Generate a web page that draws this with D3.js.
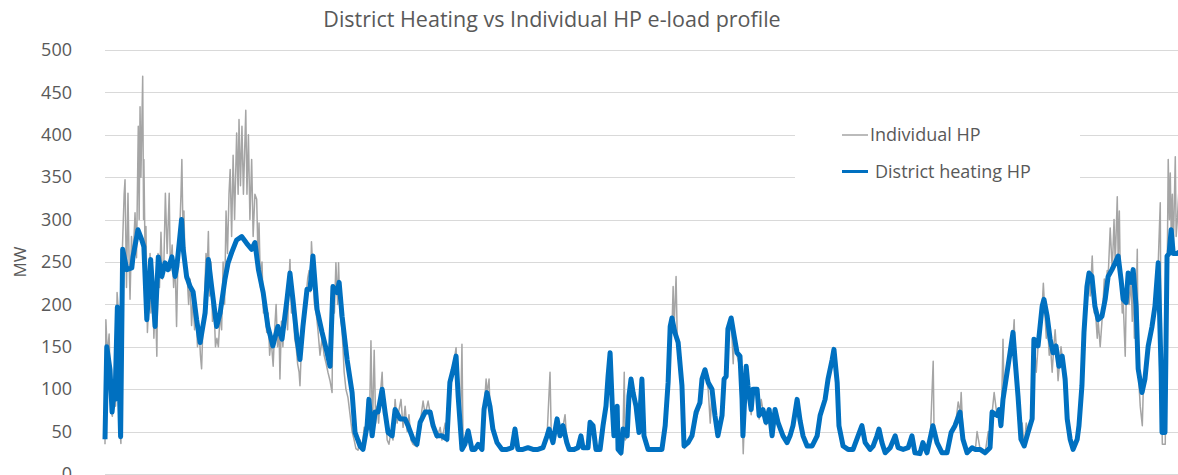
<!DOCTYPE html>
<html>
<head>
<meta charset="utf-8">
<script src="https://cdn.jsdelivr.net/npm/d3@7"></script>
<style>
  body { margin: 0; background: #fff; }
  svg { display: block; font-family: "Open Sans", "Noto Sans", sans-serif; }
</style>
</head>
<body>
<div class="chart"></div>
<script>
// day of year, MW
const individualHP = [[0,35],[0.3,182],[0.8,140],[1.4,165],[2.0,75],[2.5,68],[3.1,110],[3.6,80],[4.1,214],[4.6,190],[5.1,50],[5.4,36],[5.9,265],[6.5,330],[6.8,347],[7.3,220],[7.8,331],[8.2,250],[8.5,206],[9.0,280],[9.5,250],[10.2,308],[10.7,255],[11.3,410],[11.6,300],[11.9,433],[12.2,350],[12.8,469],[13.1,300],[13.2,371],[13.6,260],[13.9,292],[14.4,167],[14.8,200],[15.3,260],[15.6,190],[16.1,230],[16.6,160],[17.1,210],[17.6,139],[18.0,260],[18.5,220],[19.0,285],[19.5,230],[20.0,250],[20.5,331],[21.1,260],[21.5,300],[21.8,331],[22.2,240],[22.8,270],[23.3,220],[23.8,250],[24.3,174],[24.8,260],[25.3,280],[25.8,330],[26.1,371],[26.5,280],[26.8,310],[27.3,230],[27.8,240],[28.4,200],[28.9,230],[29.4,175],[29.9,210],[30.4,170],[30.9,190],[31.4,150],[31.9,175],[32.4,140],[32.8,124],[33.3,180],[33.8,210],[34.3,260],[34.7,240],[35.1,286],[35.5,210],[36.0,250],[36.5,180],[37.0,200],[37.5,150],[38.0,160],[38.5,150],[39.1,190],[39.6,170],[40.1,250],[40.6,200],[41.1,310],[41.6,260],[42.1,330],[42.5,359],[43.0,280],[43.5,376],[44.0,300],[44.7,402],[45.2,330],[45.5,418],[46.0,340],[46.5,410],[47.0,330],[47.8,429],[48.2,330],[48.7,400],[49.2,300],[49.8,371],[50.3,280],[50.9,330],[51.5,324],[52.0,250],[52.3,296],[52.8,220],[53.3,250],[53.8,190],[54.3,210],[54.9,167],[55.4,190],[55.9,140],[56.4,160],[57.1,127],[57.6,170],[58.1,200],[58.6,150],[59.1,170],[59.4,112],[59.9,180],[60.4,150],[61.0,190],[61.5,200],[62.0,170],[62.5,230],[62.8,253],[63.3,190],[63.8,210],[64.4,160],[64.9,150],[65.4,130],[65.9,120],[66.2,104],[66.7,150],[67.2,170],[67.8,200],[68.3,210],[68.8,230],[69.3,240],[69.8,215],[70.1,274],[70.6,240],[71.1,200],[71.7,190],[72.3,170],[73.0,140],[73.7,160],[74.4,140],[75.1,130],[75.7,120],[76.4,110],[77.1,96],[77.4,220],[77.9,190],[78.4,249],[79.0,200],[79.3,249],[79.8,190],[80.5,170],[81.2,120],[81.8,100],[82.5,90],[83.2,70],[83.9,50],[84.6,40],[85.2,30],[85.9,28],[86.6,40],[87.3,30],[88.0,55],[88.6,40],[89.3,90],[89.8,60],[90.3,157],[90.8,50],[91.4,146],[91.9,60],[92.4,80],[92.9,60],[93.4,90],[94.1,120],[94.6,70],[95.1,80],[95.8,40],[96.4,35],[97.1,50],[97.8,40],[98.5,88],[99.2,60],[99.8,75],[100.5,88],[101.2,55],[101.9,80],[102.6,50],[103.2,70],[103.9,40],[104.6,35],[106.0,32],[107.0,60],[108.0,86],[108.7,70],[109.7,86],[110.4,72],[111.4,55],[112.7,42],[113.8,55],[114.4,40],[115.5,60],[116.1,38],[117.2,105],[118.2,125],[119.2,149],[119.9,95],[120.6,40],[121.2,153],[121.6,28],[122.3,33],[123.3,50],[124.6,27],[125.7,28],[126.7,33],[128.0,28],[128.7,75],[129.4,112],[129.7,95],[130.4,112],[130.7,80],[131.8,50],[133.1,35],[134.8,28],[136.5,28],[138.2,30],[139.2,52],[140.3,28],[142.0,28],[143.7,30],[145.3,28],[147.0,28],[148.7,30],[150.1,45],[151.1,120],[151.5,50],[152.1,36],[153.5,64],[154.5,44],[155.5,56],[156.2,70],[156.9,36],[157.6,28],[158.9,28],[160.6,30],[161.6,44],[162.3,30],[164.0,30],[164.7,60],[165.7,56],[166.7,28],[168.1,28],[169.1,56],[170.1,80],[170.8,114],[171.5,142],[172.2,84],[172.8,45],[173.9,78],[174.2,28],[175.2,22],[175.9,52],[176.3,120],[176.6,40],[177.3,44],[177.9,90],[178.6,111],[179.3,95],[180.3,79],[181.3,48],[182.3,111],[183.0,44],[184.4,28],[186.1,28],[187.8,28],[189.2,28],[190.2,56],[191.2,107],[191.9,172],[192.6,183],[192.9,221],[193.2,170],[193.9,233],[194.3,160],[194.6,150],[196.0,103],[196.7,30],[198.0,36],[199.4,44],[200.7,65],[202.1,80],[202.7,110],[203.8,120],[204.8,100],[205.5,60],[206.1,98],[207.2,68],[208.2,44],[209.5,68],[210.2,110],[210.9,114],[211.6,160],[212.6,183],[213.3,130],[213.6,160],[214.6,140],[215.6,125],[216.3,80],[216.7,24],[217.7,125],[218.4,100],[219.4,70],[220.1,98],[221.4,97],[222.1,65],[222.8,88],[223.5,73],[224.5,58],[225.5,74],[226.5,44],[227.5,74],[228.5,60],[230.2,44],[231.6,36],[232.6,44],[233.6,56],[235.0,87],[236.0,62],[237.0,44],[238.4,32],[240.1,32],[241.8,44],[242.9,68],[244.6,86],[245.6,110],[246.9,133],[247.6,146],[248.3,100],[248.6,106],[249.3,56],[250.6,32],[252.3,28],[254.0,28],[255.7,44],[257.1,56],[258.1,36],[259.8,28],[260.8,32],[262.2,44],[262.9,52],[263.9,36],[264.9,24],[266.6,30],[268.3,44],[269.3,30],[271.0,28],[272.7,30],[274.1,44],[275.1,24],[276.8,23],[277.8,36],[279.2,24],[280.2,40],[281.2,133],[281.5,50],[282.5,36],[284.2,24],[285.9,24],[287.3,48],[288.7,56],[289.7,85],[290.4,72],[290.7,96],[291.4,40],[292.7,24],[294.4,30],[295.5,28],[296.1,50],[297.2,28],[298.8,24],[299.9,50],[300.5,30],[301.2,72],[301.9,96],[302.9,68],[303.6,75],[304.3,56],[304.9,159],[305.3,88],[306.3,119],[307.3,142],[308.0,160],[308.4,166],[308.7,182],[309.0,134],[310.1,91],[311.1,40],[311.4,60],[312.1,32],[312.8,60],[313.5,48],[314.8,64],[315.5,158],[316.2,120],[316.8,150],[317.5,180],[318.2,197],[318.6,225],[318.9,205],[319.6,160],[319.9,185],[320.6,140],[320.9,158],[321.6,120],[322.0,142],[322.6,170],[323.0,150],[323.6,110],[324.0,126],[324.6,150],[325.0,138],[325.7,100],[326.0,111],[326.7,64],[327.7,40],[328.7,28],[330.1,40],[330.8,56],[331.8,103],[332.5,166],[333.2,200],[333.5,220],[334.2,236],[334.5,210],[335.2,257],[335.9,190],[336.2,197],[336.9,160],[337.2,181],[337.9,150],[338.6,185],[339.3,230],[339.6,205],[340.3,240],[340.6,232],[341.3,290],[342.0,240],[342.6,300],[343.0,248],[343.7,327],[344.0,256],[344.4,310],[344.7,240],[345.0,228],[345.4,190],[345.7,205],[346.4,139],[346.7,200],[347.4,236],[347.7,200],[348.4,225],[348.8,180],[349.1,240],[349.5,160],[350.1,197],[350.5,265],[350.8,123],[351.5,80],[352.2,57],[352.5,95],[353.2,111],[353.9,130],[354.2,150],[354.9,160],[355.6,173],[356.2,185],[356.6,197],[357.3,230],[357.6,248],[358.3,320],[358.6,119],[359.0,35],[360.0,35],[360.3,200],[360.7,256],[361.0,371],[361.4,300],[361.7,355],[362.0,287],[362.4,330],[362.7,259],[363.4,374],[363.7,280],[364.1,300],[364.7,340]]

const districtHP = [[0,41],[0.6,150],[1.7,123],[2.4,73],[3.1,100],[3.4,88],[4.2,197],[5.3,44],[6.0,265],[7.4,241],[9.1,243],[9.5,256],[11.2,288],[12.5,276],[13.2,268],[14.2,182],[15.5,253],[17.0,174],[18.1,256],[19.3,233],[20.4,249],[21.4,241],[22.7,256],[23.8,233],[24.4,245],[26.0,300],[26.5,267],[27.7,233],[28.9,221],[29.9,215],[31.1,182],[32.3,155],[34.0,190],[35.1,253],[36.2,221],[37.9,174],[39.1,190],[40.7,229],[41.8,249],[43.0,261],[44.7,276],[46.4,280],[48.1,272],[49.8,265],[50.9,273],[52.1,241],[53.7,214],[55.3,174],[57.0,151],[58.7,174],[60.1,159],[61.8,206],[62.8,237],[63.8,206],[65.2,159],[66.2,135],[67.2,174],[68.6,218],[69.6,218],[70.6,257],[72.0,194],[73.7,167],[75.4,143],[76.4,127],[77.4,221],[78.8,214],[79.5,226],[80.5,186],[82.2,135],[83.9,96],[84.9,49],[86.6,33],[87.6,29],[89.0,57],[89.6,88],[90.7,45],[91.7,73],[92.7,73],[94.1,100],[95.1,73],[96.1,49],[97.5,45],[98.5,76],[100.2,65],[101.9,65],[102.9,57],[104.6,41],[105.9,35],[107.0,61],[108.7,73],[110.4,73],[111.4,57],[112.7,45],[114.4,45],[116.1,41],[117.1,108],[118.2,123],[119.2,139],[119.9,92],[121.2,29],[122.2,35],[123.3,51],[124.6,29],[125.6,29],[126.7,35],[128.0,29],[128.7,76],[129.7,96],[130.7,80],[131.7,53],[133.1,37],[134.8,29],[136.5,29],[138.2,31],[139.2,53],[140.2,29],[141.9,29],[143.6,31],[145.3,29],[147.0,29],[148.7,31],[150.1,45],[150.8,53],[152.1,37],[153.5,65],[154.5,45],[155.5,57],[156.8,37],[157.6,29],[159.3,29],[160.6,31],[161.6,45],[162.3,31],[164.0,31],[164.7,61],[165.7,57],[166.7,29],[168.1,29],[169.1,57],[170.1,80],[170.8,115],[171.5,143],[172.2,84],[172.8,45],[173.9,80],[174.2,29],[175.2,25],[175.9,53],[177.3,45],[177.9,92],[178.6,112],[179.3,96],[180.3,80],[181.3,49],[182.3,112],[183.0,45],[184.4,29],[186.1,29],[187.8,29],[189.1,29],[190.2,57],[191.2,108],[191.9,174],[192.5,184],[193.5,167],[194.6,155],[195.9,104],[196.6,33],[198.0,37],[199.3,45],[200.7,73],[202.0,84],[202.7,112],[203.7,123],[204.8,108],[206.1,100],[207.1,69],[208.1,45],[209.5,69],[210.2,112],[210.9,115],[211.5,171],[212.6,184],[213.6,163],[214.6,143],[215.6,139],[216.3,88],[216.6,45],[217.7,127],[218.3,104],[219.4,76],[220.0,100],[221.4,100],[222.1,69],[223.4,76],[224.4,61],[225.5,76],[226.5,45],[227.5,76],[228.5,61],[230.2,45],[231.6,37],[232.6,45],[233.6,57],[235.0,88],[236.0,63],[237.0,45],[238.4,33],[240.1,33],[241.8,45],[242.8,69],[244.5,88],[245.5,112],[246.9,135],[247.5,147],[248.6,108],[249.2,57],[250.6,33],[252.3,29],[254.0,29],[255.7,45],[257.0,57],[258.1,37],[259.8,29],[260.8,33],[262.1,45],[262.8,53],[263.8,37],[264.9,25],[266.6,31],[268.3,45],[269.3,31],[271.0,29],[272.7,31],[274.0,45],[275.0,25],[276.7,24],[277.7,37],[279.1,25],[280.1,41],[281.1,57],[282.5,37],[284.2,25],[285.9,25],[287.3,49],[288.6,57],[290.3,73],[291.3,41],[292.7,25],[294.4,31],[295.4,29],[297.1,29],[298.8,25],[300.5,31],[301.2,73],[302.9,69],[303.6,76],[304.2,57],[304.9,88],[306.3,120],[307.3,143],[308.3,167],[309.0,135],[310.0,92],[311.0,41],[312.1,33],[313.4,49],[314.8,65],[315.4,159],[316.8,151],[318.2,198],[318.8,206],[319.9,186],[320.9,159],[321.9,143],[322.9,151],[323.9,127],[325.0,139],[326.0,112],[326.7,65],[327.7,41],[328.7,29],[330.1,41],[330.7,57],[331.7,104],[332.4,167],[333.4,221],[334.1,237],[335.1,233],[336.1,198],[337.2,182],[338.5,186],[339.6,206],[340.6,233],[341.9,241],[343.0,249],[344.0,257],[345.0,229],[345.7,206],[346.7,202],[347.4,237],[348.4,226],[349.1,241],[350.1,198],[350.8,124],[352.1,96],[353.1,112],[354.2,151],[355.5,174],[356.5,198],[357.6,249],[358.6,120],[358.9,49],[359.9,49],[360.6,257],[361.3,260],[362.0,288],[362.7,260],[364.0,260],[364.7,262]]

const yTicks = [0, 50, 100, 150, 200, 250, 300, 350, 400, 450, 500]
const seriesNames = ["Individual HP", "District heating HP"]
const seriesColors = ["#a5a5a5", "#0070c0"]

const width = 1178
const height = 475
const margin = { top: 50, right: 0, bottom: 1, left: 105 }

const svg = d3.select(".chart")
    .append("svg")
    .attr("width", width)
    .attr("height", height)

const x = d3.scaleLinear()
    .domain([0, 365])
    .range([margin.left, 1180])

const y = d3.scaleLinear()
    .domain([0, 500])
    .range([height - margin.bottom, margin.top])

// gridlines
svg.append("g")
    .selectAll("line")
    .data(yTicks)
    .enter()
    .append("line")
    .attr("x1", margin.left)
    .attr("x2", width)
    .attr("y1", d => Math.round(y(d)) + 0.5)
    .attr("y2", d => Math.round(y(d)) + 0.5)
    .style("stroke", "#d9d9d9")
    .style("stroke-width", 1)

// y axis labels
const yAxis = d3.axisLeft(y)
    .tickValues(yTicks)
    .tickSize(0)
    .tickPadding(33)

svg.append("g")
    .attr("transform", `translate(${margin.left}, 0)`)
    .call(yAxis)
    .call(g => g.select(".domain").remove())
    .selectAll("text")
    .style("font-family", "'Open Sans', sans-serif")
    .style("font-size", "18px")
    .style("fill", "#595959")

svg.append("text")
    .attr("transform", "translate(26, 262) rotate(-90)")
    .attr("text-anchor", "middle")
    .style("font-size", "17px")
    .style("fill", "#595959")
    .text("MW")

svg.append("text")
    .attr("x", 552)
    .attr("y", 27)
    .attr("text-anchor", "middle")
    .style("font-size", "21.5px")
    .style("fill", "#595959")
    .text("District Heating vs Individual HP e-load profile")

const line = d3.line()
    .x(d => x(d[0]))
    .y(d => y(d[1]))

svg.append("path")
    .datum(individualHP)
    .attr("d", line)
    .style("fill", "none")
    .style("stroke", seriesColors[0])
    .style("stroke-width", 1.5)
    .style("stroke-linejoin", "round")

svg.append("path")
    .datum(districtHP)
    .attr("d", line)
    .style("fill", "none")
    .style("stroke", seriesColors[1])
    .style("stroke-width", 5)
    .style("stroke-linejoin", "round")

// legend
const legend = svg.append("g")

legend.append("rect")
    .attr("x", 795)
    .attr("y", 118)
    .attr("width", 285)
    .attr("height", 72)
    .style("fill", "#fff")

const legendRows = legend.selectAll(".legend-row")
    .data(seriesNames)
    .enter()
    .append("g")
    .attr("class", "legend-row")
    .attr("transform", (d, i) => `translate(842, ${135 + i * 36.5})`)

legendRows.append("line")
    .attr("x1", 0)
    .attr("x2", 26)
    .style("stroke", (d, i) => seriesColors[i])
    .style("stroke-width", (d, i) => i === 0 ? 1.5 : 3)

legendRows.append("text")
    .attr("x", (d, i) => i === 0 ? 28 : 33)
    .attr("dy", "0.35em")
    .style("font-size", "18px")
    .style("fill", "#595959")
    .text(d => d)
</script>
</body>
</html>
